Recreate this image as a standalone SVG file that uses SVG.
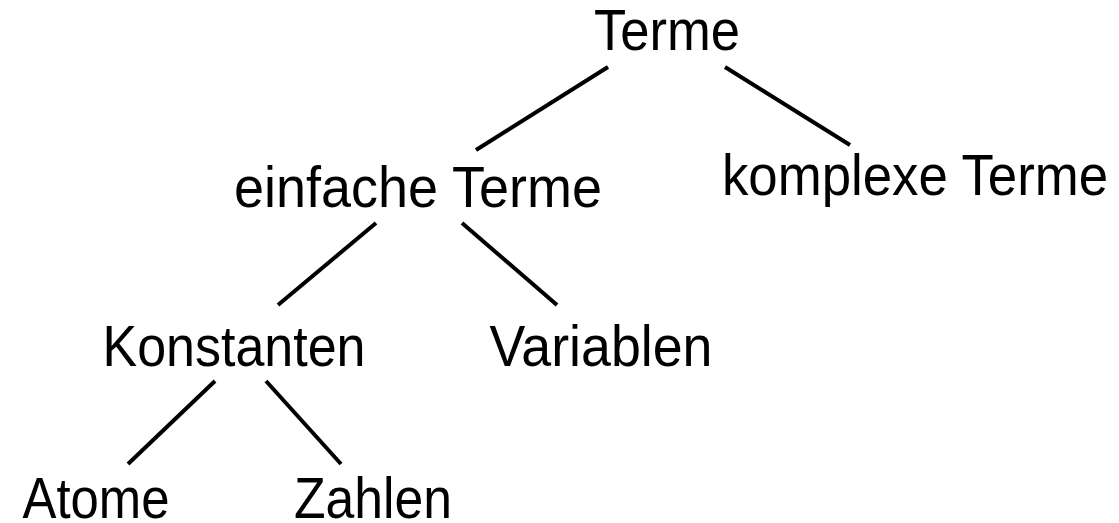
<svg xmlns="http://www.w3.org/2000/svg" width="1119" height="523" viewBox="0 0 1119 523">
<style>
.lbl{font-family:"Liberation Sans",Arial,sans-serif;font-size:57px;fill:#000;text-anchor:middle}
.edge{stroke:#000;stroke-width:4;stroke-linecap:butt;fill:none}
</style>
<rect width="1119" height="523" fill="#fff"/>
<g id="connectors">
<line class="edge" x1="608" y1="67" x2="476" y2="150"/>
<line class="edge" x1="725" y1="67" x2="850" y2="145"/>
<line class="edge" x1="376" y1="223" x2="278" y2="305"/>
<line class="edge" x1="462" y1="223" x2="557" y2="305"/>
<line class="edge" x1="215" y1="381" x2="128" y2="464"/>
<line class="edge" x1="266" y1="381" x2="341" y2="464"/>
</g>
<g id="terme"><text class="lbl" x="667" y="50" textLength="146" lengthAdjust="spacingAndGlyphs">Terme</text></g>
<g id="einfache"><text class="lbl" x="418" y="207" textLength="368" lengthAdjust="spacingAndGlyphs">einfache Terme</text></g>
<g id="komplexe"><text class="lbl" x="915" y="195" textLength="386" lengthAdjust="spacingAndGlyphs">komplexe Terme</text></g>
<g id="konstanten"><text class="lbl" x="234" y="366" textLength="263" lengthAdjust="spacingAndGlyphs">Konstanten</text></g>
<g id="variablen"><text class="lbl" x="601" y="366" textLength="223" lengthAdjust="spacingAndGlyphs">Variablen</text></g>
<g id="atome"><text class="lbl" x="96" y="518" textLength="147" lengthAdjust="spacingAndGlyphs">Atome</text></g>
<g id="zahlen"><text class="lbl" x="373" y="518" textLength="158" lengthAdjust="spacingAndGlyphs">Zahlen</text></g>
</svg>
